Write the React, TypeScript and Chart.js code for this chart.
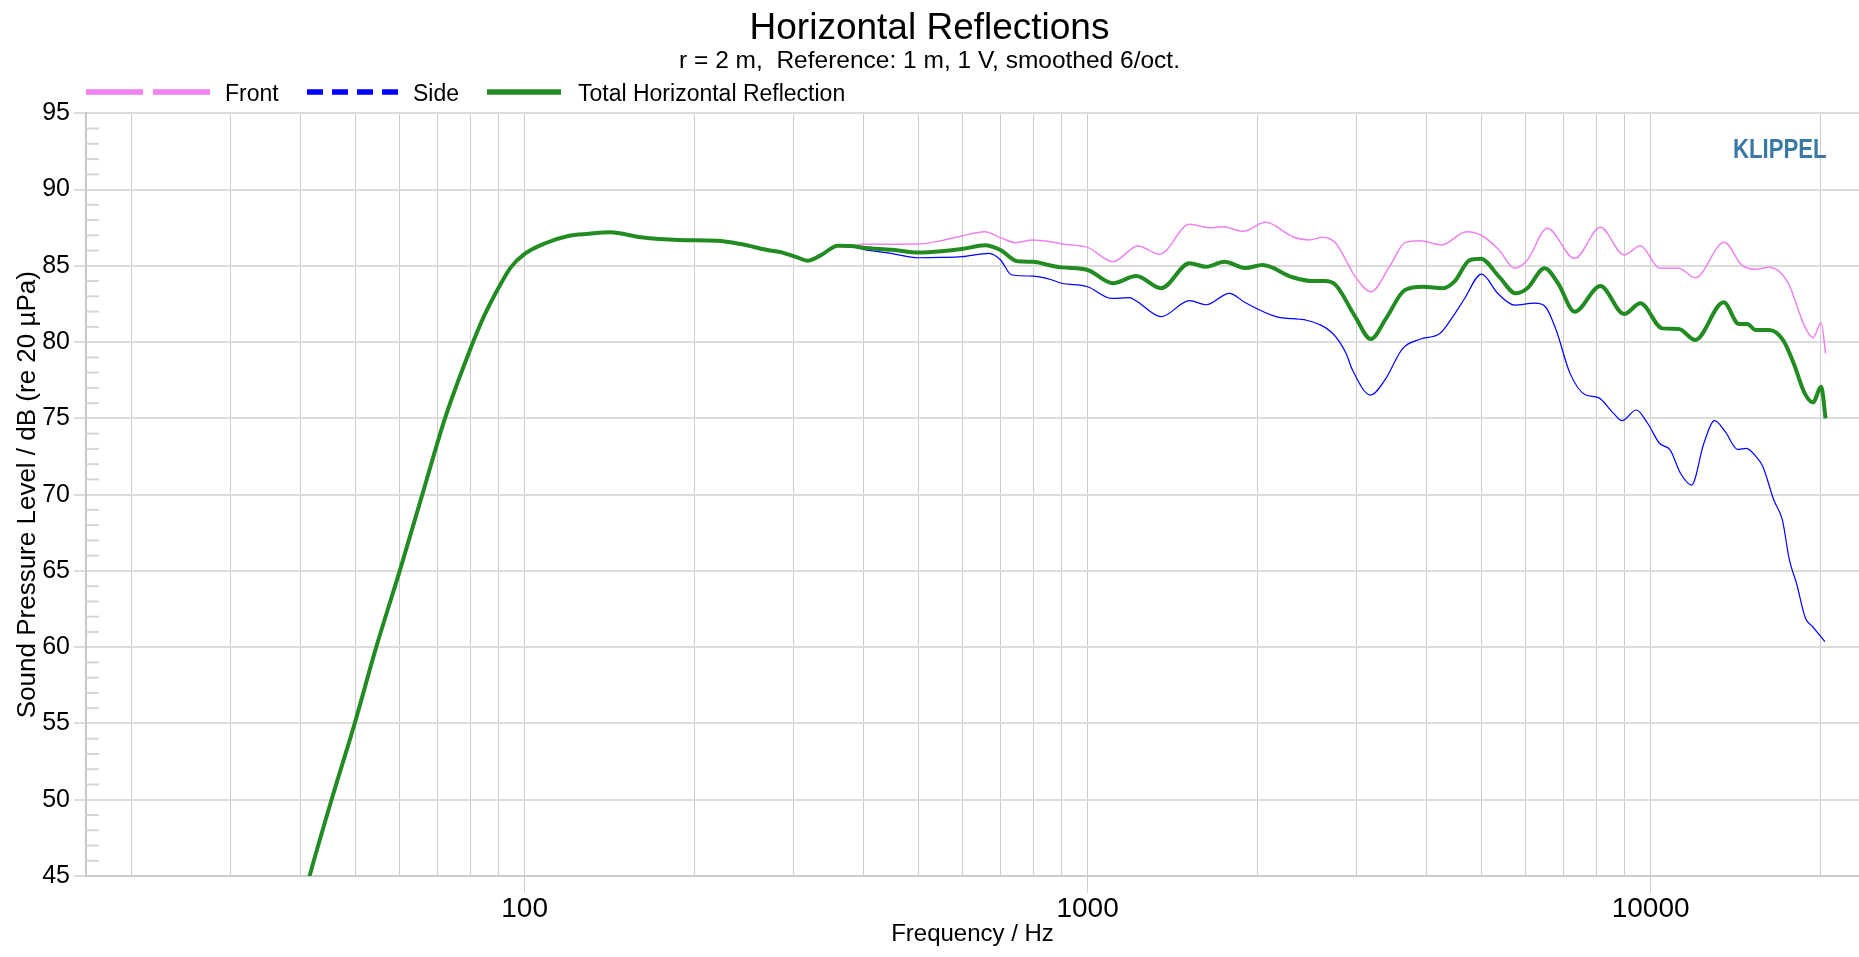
import React, { useEffect, useRef } from 'react';
import { Chart, registerables } from 'chart.js';

Chart.register(...registerables);

const FONT = "'Liberation Sans', Arial, Helvetica, sans-serif";

// Shared low-frequency response (all three curves coincide here)
const lowFreq = [38.5, 41.5, 45.4, 49.9, 54.5, 60, 65.8, 72.2, 80, 84.7, 90, 94.5, 100, 108.8, 119.5, 130, 142, 161, 188, 220, 242, 270, 287, 305, 318, 336, 360, 380];
const lowDb = [40.3, 45, 50, 55, 60, 65, 70, 75, 79.5, 81.7, 83.6, 84.9, 85.78, 86.48, 86.96, 87.1, 87.2, 86.87, 86.7, 86.65, 86.43, 86.04, 85.87, 85.55, 85.34, 85.7, 86.32, 86.3];

// Front (violet)
const frontFreq = [400, 450, 500, 550, 598, 657, 700, 745, 800, 853, 900, 1000, 1109, 1228, 1342, 1517, 1646, 1737, 1889, 2071, 2313, 2475, 2614, 2759, 2987, 3185, 3436, 3661, 3893, 4252, 4705, 4992, 5380, 5731, 6040, 6552, 7329, 8144, 8971, 9592, 10376, 11222, 12000, 13511, 14521, 15360, 16238, 17558, 18784, 19428, 20090, 20455];
const frontDb = [86.41, 86.42, 86.43, 86.65, 86.96, 87.24, 86.85, 86.52, 86.7, 86.6, 86.43, 86.21, 85.27, 86.3, 85.76, 87.72, 87.5, 87.57, 87.26, 87.85, 86.91, 86.7, 86.87, 86.48, 84.29, 83.3, 84.94, 86.52, 86.65, 86.37, 87.24, 87.02, 86.04, 84.84, 85.38, 87.46, 85.49, 87.53, 85.71, 86.32, 84.84, 84.84, 84.22, 86.54, 85.05, 84.77, 84.9, 83.86, 81.01, 80.29, 81.27, 79.27];

// Side (blue)
const sideFreq = [400, 450, 500, 550, 598, 668, 700, 733, 800, 853, 900, 1000, 1102, 1187, 1220, 1351, 1517, 1624, 1785, 1907, 2162, 2379, 2441, 2723, 2877, 2954, 3181, 3373, 3629, 3904, 4228, 4454, 4656, 5010, 5350, 5731, 6230, 6503, 6795, 7192, 7670, 8060, 8594, 8893, 9432, 9878, 10370, 10830, 11300, 11825, 12434, 12988, 13570, 14270, 14790, 15480, 15830, 16550, 17140, 17640, 18160, 18840, 19400, 20400];
const sideDb = [86.08, 85.8, 85.53, 85.55, 85.6, 85.82, 85.4, 84.4, 84.33, 84.14, 83.86, 83.63, 82.87, 82.91, 82.7, 81.67, 82.72, 82.45, 83.2, 82.58, 81.67, 81.5, 81.45, 80.58, 79.27, 78.17, 76.53, 77.52, 79.59, 80.2, 80.58, 81.67, 82.76, 84.46, 83.2, 82.43, 82.55, 82.32, 80.79, 77.95, 76.53, 76.38, 75.33, 74.85, 75.55, 74.68, 73.37, 72.93, 71.4, 70.63, 73.37, 74.85, 74.13, 72.97, 73.04, 72.38, 71.83, 69.65, 68.34, 65.72, 64.19, 61.9, 61.34, 60.36];

// Total Horizontal Reflection (green)
const totalFreq = [400, 450, 500, 550, 598, 657, 700, 751, 800, 853, 900, 1000, 1109, 1220, 1351, 1517, 1624, 1749, 1907, 2045, 2313, 2510, 2636, 2759, 2987, 3185, 3390, 3661, 3945, 4280, 4480, 4772, 4992, 5380, 5760, 6040, 6481, 6848, 7329, 8144, 8971, 9592, 10491, 11222, 12000, 13480, 14350, 14850, 15360, 16238, 17180, 17950, 18784, 19428, 20090, 20455];
const totalDb = [86.19, 86.05, 85.87, 85.95, 86.1, 86.35, 86.04, 85.3, 85.27, 85.05, 84.9, 84.73, 83.86, 84.33, 83.53, 85.17, 84.94, 85.27, 84.86, 85.05, 84.25, 84.0, 84.0, 83.74, 81.67, 80.2, 81.56, 83.42, 83.63, 83.53, 83.96, 85.38, 85.47, 84.29, 83.2, 83.53, 84.84, 83.86, 81.99, 83.68, 81.84, 82.54, 80.9, 80.86, 80.14, 82.61, 81.19, 81.19, 80.79, 80.79, 80.14, 78.61, 76.64, 76.05, 77.08, 75.0];

// Axis ticks
const xGridTicks = [20, 30, 40, 50, 60, 70, 80, 90, 100, 200, 300, 400, 500, 600, 700, 800, 900, 1000, 2000, 3000, 4000, 5000, 6000, 7000, 8000, 9000, 10000, 20000];
const xLabelTicks = [100, 1000, 10000];

const toPoints = (f: number[], d: number[]) => f.map((x, i) => ({ x, y: d[i] }));

const legendPlugin = {
  id: 'customLegend',
  afterDraw(chart: any) {
    const ctx = chart.ctx;
    const ds = chart.data.datasets;
    const layout = [
      { i: 0, x0: 86, x1: 210, tx: 225, dash: [57, 10] },
      { i: 1, x0: 307, x1: 399, tx: 413, dash: [16, 9] },
      { i: 2, x0: 487, x1: 561, tx: 578, dash: [] as number[] },
    ];
    ctx.save();
    for (const it of layout) {
      const d = ds[it.i];
      ctx.setLineDash(it.dash);
      ctx.strokeStyle = d.borderColor;
      ctx.lineWidth = 5.5;
      ctx.beginPath();
      ctx.moveTo(it.x0, 92);
      ctx.lineTo(it.x1, 92);
      ctx.stroke();
      ctx.setLineDash([]);
      ctx.fillStyle = '#000';
      ctx.font = `23px ${FONT}`;
      ctx.textBaseline = 'middle';
      ctx.textAlign = 'left';
      ctx.fillText(d.label, it.tx, 94.5);
    }
    // KLIPPEL logo text
    const area = chart.chartArea;
    ctx.font = `bold 27px ${FONT}`;
    ctx.fillStyle = '#3a79a3';
    ctx.textBaseline = 'alphabetic';
    ctx.translate(area.right - 126, 158);
    ctx.scale(0.82, 1);
    ctx.fillText('KLIPPEL', 0, 0);
    ctx.restore();
  },
};

const minorTickPlugin = {
  id: 'minorTicks',
  beforeDatasetsDraw(chart: any) {
    const ctx = chart.ctx;
    const y = chart.scales.y;
    const left = chart.chartArea.left;
    ctx.save();
    ctx.strokeStyle = '#d6d6d6';
    ctx.lineWidth = 2;
    for (let v = Math.ceil(y.min); v <= y.max; v++) {
      if (v % 5 === 0) continue;
      const py = y.getPixelForValue(v);
      ctx.beginPath();
      ctx.moveTo(left, py);
      ctx.lineTo(left + 13, py);
      ctx.stroke();
    }
    ctx.restore();
  },
};

export default function App() {
  const ref = useRef<HTMLCanvasElement>(null);
  useEffect(() => {
    const canvas = ref.current;
    if (!canvas) return;
    Chart.defaults.font.family = FONT;
    Chart.defaults.color = '#000';
    const chart = new Chart(canvas, {
      type: 'line',
      data: {
        datasets: [
          {
            label: 'Front',
            data: toPoints([...lowFreq, ...frontFreq], [...lowDb, ...frontDb]),
            borderColor: '#ee82ee',
            backgroundColor: '#ee82ee',
            borderWidth: 1.5,
            pointRadius: 0,
            cubicInterpolationMode: 'monotone',
            order: 1,
          },
          {
            label: 'Side',
            data: toPoints([...lowFreq, ...sideFreq], [...lowDb, ...sideDb]),
            borderColor: '#0000ff',
            backgroundColor: '#0000ff',
            borderWidth: 1.2,
            pointRadius: 0,
            cubicInterpolationMode: 'monotone',
            order: 2,
          },
          {
            label: 'Total Horizontal Reflection',
            data: toPoints([...lowFreq, ...totalFreq], [...lowDb, ...totalDb]),
            borderColor: '#228b22',
            backgroundColor: '#228b22',
            borderWidth: 4,
            pointRadius: 0,
            cubicInterpolationMode: 'monotone',
            order: 0,
          },
        ],
      },
      options: {
        responsive: false,
        animation: false,
        events: [],
        layout: { padding: 0 },
        plugins: {
          legend: { display: false },
          tooltip: { enabled: false },
          title: {
            display: true,
            text: 'Horizontal Reflections',
            color: '#000',
            font: { family: FONT, size: 37, weight: 'normal', lineHeight: 1 },
            padding: { top: 10, bottom: 0 },
          },
          subtitle: {
            display: true,
            text: 'r = 2 m,  Reference: 1 m, 1 V, smoothed 6/oct.',
            color: '#000',
            font: { family: FONT, size: 24.5, weight: 'normal', lineHeight: 1 },
            padding: { top: 2, bottom: 39.8 },
          },
        },
        scales: {
          x: {
            type: 'logarithmic',
            min: 16.63,
            max: 23450,
            afterBuildTicks: (axis: any) => {
              axis.ticks = xGridTicks.map((v) => ({ value: v }));
            },
            afterFit: (s: any) => {
              s.height = 81;
            },
            ticks: {
              autoSkip: false,
              maxRotation: 0,
              minRotation: 0,
              padding: -1,
              color: '#000',
              font: { size: 28 },
              callback: (v: any) => (xLabelTicks.includes(Number(v)) ? String(v) : ''),
            },
            grid: {
              color: '#cccccc',
              lineWidth: 1,
              tickLength: 17,
              tickColor: (c: any) => (c.tick && xLabelTicks.includes(c.tick.value) ? '#cccccc' : 'rgba(0,0,0,0)'),
            },
            border: { display: true, color: '#cccccc', width: 2 },
            title: {
              display: true,
              text: 'Frequency / Hz',
              color: '#000',
              font: { size: 24 },
              padding: { top: 0, bottom: 8 },
            },
          },
          y: {
            type: 'linear',
            min: 45,
            max: 95,
            afterFit: (s: any) => {
              s.width = 86;
            },
            ticks: { stepSize: 5, padding: 4, color: '#000', font: { size: 25 } },
            grid: { color: '#dcdcdc', lineWidth: 2, tickLength: 12 },
            border: { display: true, color: '#c8c8c8', width: 2 },
            title: {
              display: true,
              text: 'Sound Pressure Level / dB (re 20 µPa)',
              color: '#000',
              font: { size: 26 },
              padding: { top: 12, bottom: 0 },
            },
          },
        },
      },
      plugins: [minorTickPlugin, legendPlugin],
    } as any);
    return () => chart.destroy();
  }, []);
  return (
    <div style={{ position: 'fixed', left: 0, top: 0, width: 1859, height: 957, background: '#fff' }}>
      <canvas ref={ref} width={1859} height={957} style={{ display: 'block' }} />
    </div>
  );
}
